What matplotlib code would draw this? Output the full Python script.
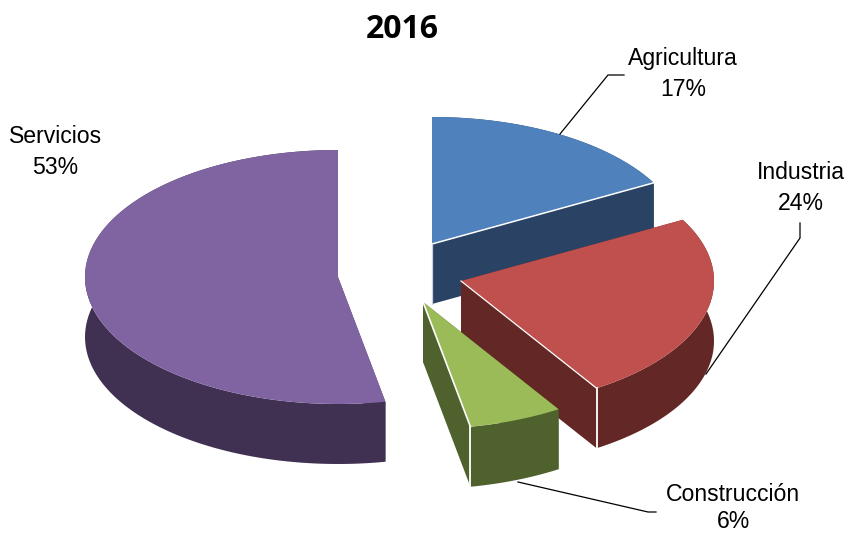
import numpy as np
import matplotlib
matplotlib.use("Agg")
import matplotlib.pyplot as plt
from matplotlib.patches import Polygon

title = "2016"
sectors = ["Agricultura", "Industria", "Construcción", "Servicios"]
shares = [17, 24, 6, 53]
top_colors = ["#4F81BD", "#C0504D", "#9BBB59", "#8064A2"]
side_colors = ["#2A4365", "#632725", "#4F612D", "#403152"]

# pixel layout of the exploded slices
centers = [(432, 244), (461, 281), (423, 302), (338, 277)]
# label x, baseline of the name, baseline of the value
label_pos = [(683, 65, 96), (801, 179, 210), (733, 501, 528), (55.5, 143, 174)]
leaders = [
    [(560, 134), (608, 75), (624, 75)],
    [(706, 374), (800, 238), (800, 223)],
    [(518, 482), (648, 512), (656, 512)],
]
rx, ry, depth = 253, 127, 60
draw_order = [0, 3, 1, 2]

plt.rcParams["font.family"] = ["Liberation Sans", "DejaVu Sans"]

fig = plt.figure(figsize=(8.48, 5.33), dpi=100)
ax = fig.add_axes([0, 0, 1, 1])
ax.set_xlim(0, 848)
ax.set_ylim(533, 0)
ax.axis("off")

edges = np.cumsum([0] + shares) / sum(shares) * 2 * np.pi


def rim(cx, cy, a, b):
    t = np.linspace(a, b, 120)
    return np.column_stack([cx + rx * np.sin(t), cy - ry * np.cos(t)])


def wall(p, q, color):
    pts = [p, q, (q[0], q[1] + depth), (p[0], p[1] + depth)]
    ax.add_patch(Polygon(pts, closed=True, fc=color, ec="none"))


for i in draw_order:
    cx, cy = centers[i]
    arc = rim(cx, cy, edges[i], edges[i + 1])
    c = (cx, cy)
    # cut faces first, the outer wall and the top paint over the hidden ones
    wall(c, arc[0], side_colors[i])
    wall(c, arc[-1], side_colors[i])
    low = arc + [0, depth]
    ax.add_patch(Polygon(np.vstack([arc, low[::-1]]), closed=True, fc=side_colors[i], ec="none"))
    ax.add_patch(Polygon(np.vstack([[c], arc]), closed=True, fc=top_colors[i], ec="none"))

    # thin white highlights on the front corners
    if i == 0:
        ax.plot([cx, arc[-1][0]], [cy, arc[-1][1]], color="white", lw=1.1)
        ax.plot([cx, cx], [cy, cy + depth], color="#C8D2DE", lw=0.9)
    if i == 1:
        ax.plot([cx, arc[-1][0]], [cy, arc[-1][1]], color="white", lw=0.9)
        ax.plot([arc[-1][0]] * 2, [arc[-1][1], arc[-1][1] + depth], color="white", lw=1.3)
    if i == 2:
        ax.plot([cx, arc[-1][0]], [cy, arc[-1][1]], color="white", lw=1.2)
        ax.plot([arc[-1][0]] * 2, [arc[-1][1], arc[-1][1] + depth], color="white", lw=1.3)

for pts in leaders:
    xs, ys = zip(*pts)
    ax.plot(xs, ys, color="black", lw=0.9)

for name, val, (x, y1, y2) in zip(sectors, shares, label_pos):
    ax.text(x, y1, name, ha="center", va="baseline", fontsize=16.6, color="black")
    ax.text(x, y2, f"{val}%", ha="center", va="baseline", fontsize=16.6, color="black")

ax.text(402, 30, title, ha="center", va="center", fontsize=23, fontweight="bold",
        family=["Open Sans", "DejaVu Sans"])

fig.savefig("out.png", dpi=100)
